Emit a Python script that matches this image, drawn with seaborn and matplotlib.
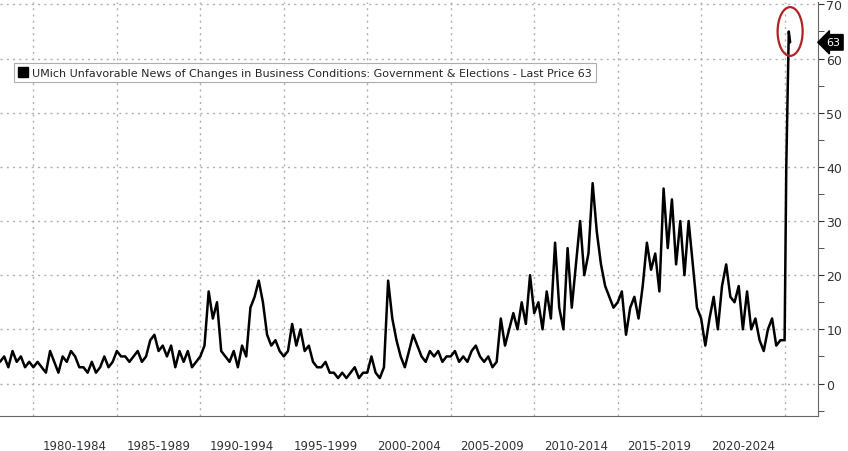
import numpy as np
import pandas as pd
import matplotlib
matplotlib.use("Agg")
import matplotlib.pyplot as plt
import seaborn as sns
from matplotlib.patches import Ellipse
from matplotlib.lines import Line2D

years = list(range(1978, 2025))
quarterly = [
    [4,5,3,6],[4,5,3,4],[3,4,3,2],[6,4,2,5],[4,6,5,3],[3,2,4,2],[3,5,3,4],
    [6,5,5,4],[5,6,4,5],[8,9,6,7],[5,7,3,6],[4,6,3,4],[5,7,17,12],[15,6,5,4],
    [6,3,7,5],[14,16,19,15],[9,7,8,6],[5,6,11,7],[10,6,7,4],[3,3,4,2],[2,1,2,1],
    [2,3,1,2],[2,5,2,1],[3,19,12,8],[5,3,6,9],[7,5,4,6],[5,6,4,5],[5,6,4,5],
    [4,6,7,5],[4,5,3,4],[12,7,10,13],[10,15,11,20],[13,15,10,17],[12,26,14,10],
    [25,14,22,30],[20,24,37,28],[22,18,16,14],[15,17,9,14],[16,12,18,26],
    [21,24,17,36],[25,34,22,30],[20,30,22,14],[12,7,12,16],[10,18,22,16],
    [15,18,10,17],[10,12,8,6],[10,12,7,8],
]
tail_dates = [2025.0, 2025.1, 2025.25, 2025.33]
tail_values = [8, 40, 65, 63]
last_price = 63
title = "UMich Unfavorable News of Changes in Business Conditions: Government & Elections - Last Price 63"
period_labels = ["1980-1984","1985-1989","1990-1994","1995-1999","2000-2004",
                 "2005-2009","2010-2014","2015-2019","2020-2024"]

dates = [y + q / 4 for y, vals in zip(years, quarterly) for q in range(4)] + tail_dates
values = [v for vals in quarterly for v in vals] + tail_values
df = pd.DataFrame({"date": dates, "value": values})

sns.set_style("white")
plt.rcParams["font.family"] = ["DejaVu Sans"]
fig = plt.figure(figsize=(8.48, 4.52), dpi=100)
ax = fig.add_axes([0.0, 35/452, 818/848, 1 - 35/452 - 0.006])
sns.lineplot(data=df, x="date", y="value", ax=ax, color="black", linewidth=1.8, zorder=5, legend=False)
ax.set_xlim(1978.0, 2027.0)
ax.set_ylim(-6, 70.5)
ax.set_xlabel(""); ax.set_ylabel("")

ax.yaxis.tick_right()
ax.set_yticks(range(0, 71, 10))
ax.set_yticks(range(-5, 71, 5), minor=True)
ax.tick_params(axis="y", which="both", direction="out", length=4, labelsize=9, colors="#333333", pad=2)
for s in ["top", "left"]:
    ax.spines[s].set_visible(False)
ax.spines["right"].set_color("#666666")
ax.spines["bottom"].set_color("#666666")

bounds = list(range(1980, 2030, 5))
ax.set_xticks(bounds)
ax.set_xticks(range(1978, 2027), minor=True)
ax.set_xticklabels([""] * len(bounds))
ax.tick_params(axis="x", which="major", length=30, color="#888888")
ax.tick_params(axis="x", which="minor", length=3, color="#888888")
for b, lab in zip(bounds, period_labels):
    ax.text(b + 2.5, -0.055, lab, transform=ax.get_xaxis_transform(), ha="center", va="top",
            fontsize=8.5, color="#333333")

for b in bounds:
    ax.axvline(b, color="#b0b0b0", linestyle=(0, (1.5, 3)), linewidth=1, zorder=1)
for yv in range(0, 71, 10):
    ax.axhline(yv, color="#b0b0b0", linestyle=(0, (1.5, 3)), linewidth=1, zorder=1)

handle = Line2D([], [], color="black", marker="s", markersize=7, linestyle="none")
leg = ax.legend([handle], [title], loc="upper left", bbox_to_anchor=(0.01, 0.865), fontsize=8,
                frameon=True, fancybox=False, handlelength=0.8, handletextpad=0.4, borderpad=0.4)
leg.get_frame().set_edgecolor("#999999")
leg.get_frame().set_linewidth(0.8)
leg.set_zorder(10)

ax.add_patch(Ellipse((tail_dates[-1], 65), 1.5, 9, fill=False, edgecolor="#b22222", linewidth=1.6,
                     clip_on=False, zorder=6))
ax.annotate(str(last_price), xy=(1.0, last_price), xycoords=("axes fraction", "data"),
            xytext=(6, 0), textcoords="offset points", va="center", ha="left", fontsize=8,
            color="white", bbox=dict(boxstyle="larrow,pad=0.25", fc="black", ec="black"))

fig.savefig("out.png", dpi=100)
